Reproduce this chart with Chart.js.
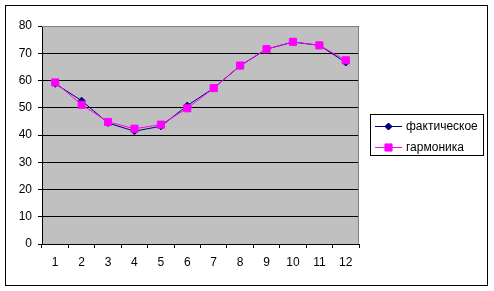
<!DOCTYPE html>
<html>
<head>
<meta charset="utf-8">
<script src="https://cdn.jsdelivr.net/npm/chart.js@4"></script>
<style>
  html, body { margin: 0; padding: 0; background: #fff; }
  canvas { display: block; }
</style>
</head>
<body>
<canvas id="chart" width="494" height="291"></canvas>
<script>
// ── Data ─────────────────────────────────────────────────
const months = ["1", "2", "3", "4", "5", "6", "7", "8", "9", "10", "11", "12"];
const actual = [58.8, 52.6, 44.4, 41.4, 43.2, 50.8, 57.2, 65.4, 71.5, 74.1, 72.9, 66.6];
const harmonic = [59.3, 51.1, 44.8, 42.3, 43.8, 49.8, 57.2, 65.5, 71.5, 74.2, 72.9, 67.4];
const yTicks = [0, 10, 20, 30, 40, 50, 60, 70, 80];
const seriesNames = ["фактическое", "гармоника"];

Chart.defaults.font.family = "'Liberation Sans', Arial, sans-serif";
Chart.defaults.font.size = 12;
Chart.defaults.color = "#000";

// grey plot background + outer frame + grey plot border + custom legend
const excelLook = {
  id: "excelLook",
  beforeDraw(chart) {
    const { ctx, chartArea: a } = chart;
    ctx.save();
    ctx.fillStyle = "#fff";
    ctx.fillRect(0, 0, chart.width, chart.height);
    ctx.fillStyle = "#c0c0c0";
    ctx.fillRect(a.left, a.top, a.right - a.left, a.bottom - a.top);
    ctx.strokeStyle = "#000";
    ctx.lineWidth = 1;
    ctx.strokeRect(5.5, 5.5, 482, 280);
    ctx.restore();
  },
  beforeDatasetsDraw(chart) {
    const { ctx, chartArea: a } = chart;
    ctx.save();
    ctx.strokeStyle = "#808080";
    ctx.lineWidth = 1;
    ctx.beginPath();
    ctx.moveTo(a.left, a.top + 0.5);
    ctx.lineTo(a.right - 0.5, a.top + 0.5);
    ctx.lineTo(a.right - 0.5, a.bottom);
    ctx.stroke();
    ctx.restore();
  },
  afterDraw(chart) {
    const { ctx } = chart;
    ctx.save();
    ctx.strokeStyle = "#000";
    ctx.lineWidth = 1;
    ctx.strokeRect(370.5, 114.5, 113, 41);
    ctx.font = "12px 'Liberation Sans', Arial, sans-serif";
    ctx.textBaseline = "middle";
    ctx.textAlign = "left";
    const rows = [126, 147];
    chart.data.datasets.forEach((ds, i) => {
      const y = rows[i];
      ctx.strokeStyle = ds.borderColor;
      ctx.beginPath();
      ctx.moveTo(375, y + 0.5);
      ctx.lineTo(402, y + 0.5);
      ctx.stroke();
      Chart.helpers.drawPoint(ctx, {
        pointStyle: ds.pointStyle,
        radius: ds.pointRadius,
        borderWidth: 1
      }, 388.5, y + 0.5);
      ctx.fillStyle = ds.pointBackgroundColor;
      ctx.fill();
      ctx.fillStyle = "#000";
      ctx.fillText(ds.label, 406, y + 1);
    });
    ctx.restore();
  }
};

new Chart(document.getElementById("chart"), {
  type: "line",
  data: {
    labels: months,
    datasets: [
      {
        label: seriesNames[0],
        data: actual,
        borderColor: "#000080",
        backgroundColor: "#000080",
        pointBackgroundColor: "#000080",
        pointBorderColor: "#000080",
        pointStyle: "rectRot",
        pointRadius: 3.5,
        borderWidth: 1,
        tension: 0,
        order: 2
      },
      {
        label: seriesNames[1],
        data: harmonic,
        borderColor: "#ff00ff",
        backgroundColor: "#ff00ff",
        pointBackgroundColor: "#ff00ff",
        pointBorderColor: "#ff00ff",
        pointStyle: "rect",
        pointRadius: 5,
        borderWidth: 1,
        tension: 0,
        order: 1
      }
    ]
  },
  options: {
    responsive: false,
    animation: false,
    events: [],
    layout: { padding: { left: 0, top: 26, right: 135, bottom: 0 } },
    plugins: {
      legend: { display: false },
      tooltip: { enabled: false }
    },
    scales: {
      x: {
        type: "category",
        offset: true,
        grid: {
          offset: true,
          drawOnChartArea: false,
          drawTicks: true,
          tickLength: 4,
          color: "#000"
        },
        border: { color: "#000" },
        ticks: { padding: 7, color: "#000", maxRotation: 0, autoSkip: false },
        afterFit(scale) { scale.height = 47; }
      },
      y: {
        min: 0,
        max: 80,
        afterBuildTicks(scale) { scale.ticks = yTicks.map(v => ({ value: v })); },
        grid: { color: "#000", tickLength: 4, drawTicks: true },
        border: { color: "#000" },
        ticks: { padding: 6, color: "#000" },
        afterFit(scale) { scale.width = 42; }
      }
    }
  },
  plugins: [excelLook]
});
</script>
</body>
</html>
